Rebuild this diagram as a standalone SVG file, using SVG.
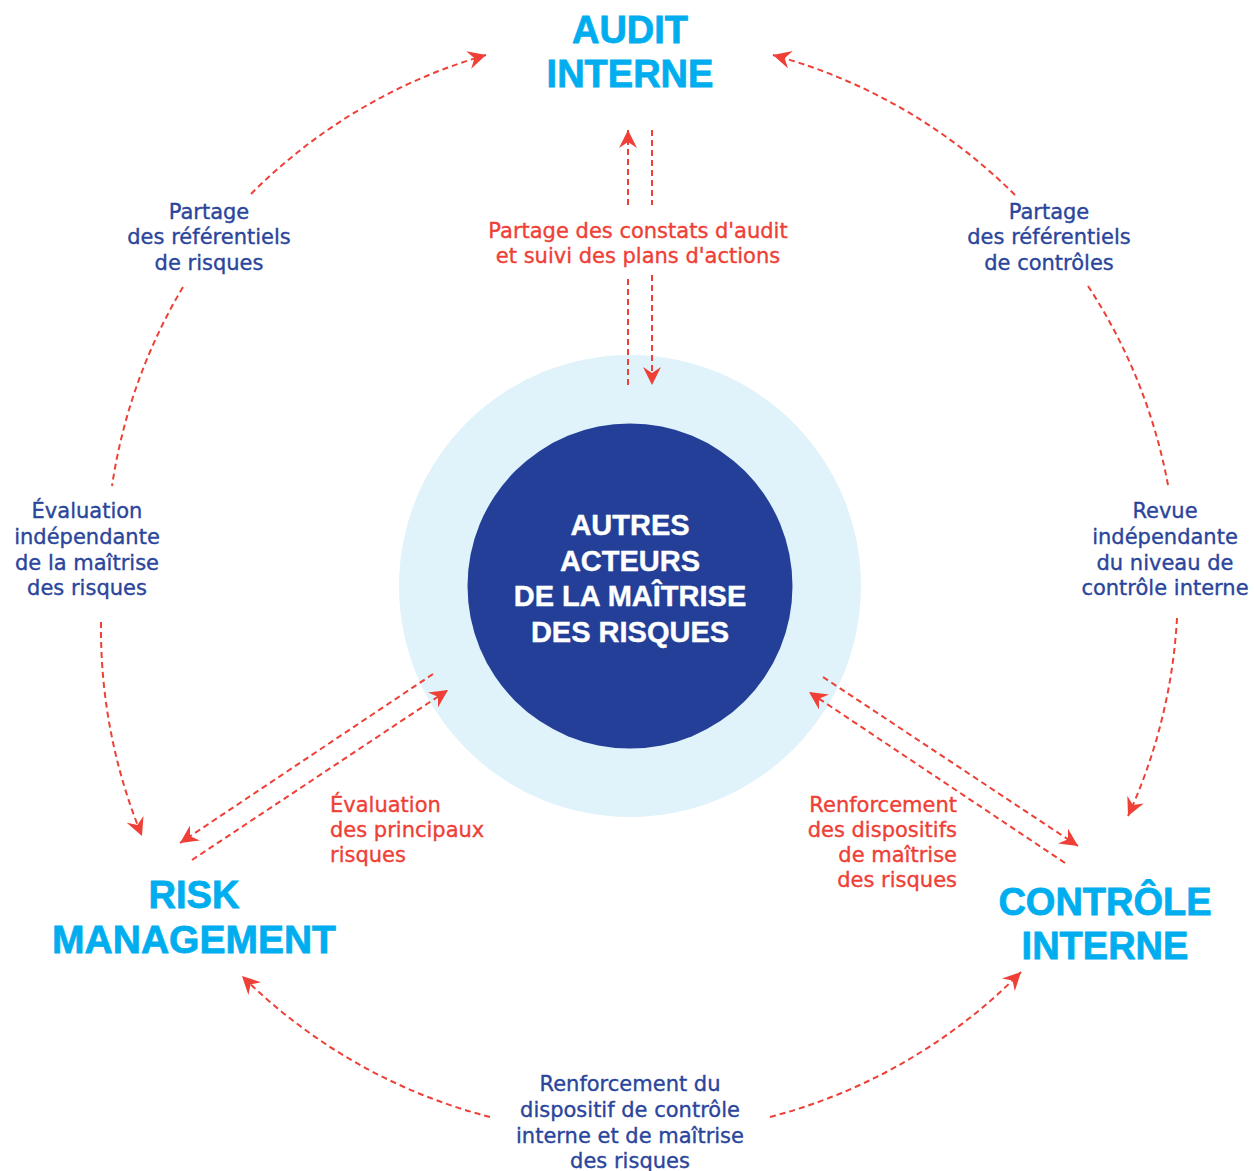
<svg xmlns="http://www.w3.org/2000/svg" width="1254" height="1171" viewBox="0 0 1254 1171">
<style>
.title{font-family:"Liberation Sans",Arial,sans-serif;font-weight:bold;font-size:38px;fill:#00AEEF;stroke:#00AEEF;stroke-width:0.8;text-anchor:middle}
.center{font-family:"Liberation Sans",Arial,sans-serif;font-weight:bold;font-size:29px;fill:#FFFFFF;stroke:#FFFFFF;stroke-width:0.4;text-anchor:middle}
.lbl{font-family:"DejaVu Sans",sans-serif;font-size:21px;fill:#2A459B;stroke:#2A459B;stroke-width:0.35}
.red{font-family:"DejaVu Sans",sans-serif;font-size:21px;fill:#EE4036;stroke:#EE4036;stroke-width:0.35}
.mid{text-anchor:middle}
.con{fill:none;stroke:#EE4036;stroke-width:2;stroke-dasharray:6 4}
</style>
<defs>
<marker id="ah" markerUnits="userSpaceOnUse" markerWidth="20" markerHeight="18" refX="18" refY="9" orient="auto">
<path d="M0,0 L18,9 L0,18 L6,9 z" fill="#EE4036"/>
</marker>
</defs>
<rect width="1254" height="1171" fill="#FFFFFF"/>

<g id="node-center">
<circle cx="630" cy="586" r="231" fill="#E0F2FA"/>
<circle cx="630" cy="586" r="162.5" fill="#233F98"/>
<text class="center" x="630" y="535">AUTRES</text>
<text class="center" x="630" y="570.5">ACTEURS</text>
<text class="center" x="630" y="606">DE LA MAÎTRISE</text>
<text class="center" x="630" y="641.5">DES RISQUES</text>
</g>

<g id="node-audit">
<text class="title" x="630" y="43">AUDIT</text>
<text class="title" x="630" y="87">INTERNE</text>
</g>

<g id="node-risk">
<text class="title" x="194" y="908">RISK</text>
<text class="title" x="194" y="953" style="font-size:39px">MANAGEMENT</text>
</g>

<g id="node-controle">
<text class="title" x="1105" y="915">CONTRÔLE</text>
<text class="title" x="1105" y="959">INTERNE</text>
</g>

<g id="connectors">
<path class="con" d="M628,385 L628,275"/>
<path class="con" d="M628,205 L628,130" marker-end="url(#ah)"/>
<path class="con" d="M652,130 L652,205"/>
<path class="con" d="M652,275 L652,385" marker-end="url(#ah)"/>

<path class="con" d="M433,674 L180,843" marker-end="url(#ah)"/>
<path class="con" d="M192,860 L448,690" marker-end="url(#ah)"/>

<path class="con" d="M823,677 L1078,846" marker-end="url(#ah)"/>
<path class="con" d="M1065,863 L809,692" marker-end="url(#ah)"/>

<path class="con" d="M251,194 A545,545 0 0 1 486,55" marker-end="url(#ah)"/>
<path class="con" d="M183,287 A545,545 0 0 0 112,486"/>
<path class="con" d="M101,622 A545,545 0 0 0 142,836" marker-end="url(#ah)"/>

<path class="con" d="M1015,195 A545,545 0 0 0 773,55" marker-end="url(#ah)"/>
<path class="con" d="M1088,286 A545,545 0 0 1 1168,485"/>
<path class="con" d="M1177,618 A545,545 0 0 1 1128,816" marker-end="url(#ah)"/>

<path class="con" d="M490,1117 A545,545 0 0 1 242,976" marker-end="url(#ah)"/>
<path class="con" d="M770,1117 A545,545 0 0 0 1021,972" marker-end="url(#ah)"/>
</g>

<g id="labels">
<text class="red mid" x="638" y="238">Partage des constats d'audit</text>
<text class="red mid" x="638" y="263">et suivi des plans d'actions</text>

<text class="red" x="330" y="812">Évaluation</text>
<text class="red" x="330" y="837">des principaux</text>
<text class="red" x="330" y="862">risques</text>

<text class="red" x="957" y="812" text-anchor="end">Renforcement</text>
<text class="red" x="957" y="837" text-anchor="end">des dispositifs</text>
<text class="red" x="957" y="862" text-anchor="end">de maîtrise</text>
<text class="red" x="957" y="887" text-anchor="end">des risques</text>

<text class="lbl mid" x="209" y="219">Partage</text>
<text class="lbl mid" x="209" y="244">des référentiels</text>
<text class="lbl mid" x="209" y="270">de risques</text>

<text class="lbl mid" x="1049" y="219">Partage</text>
<text class="lbl mid" x="1049" y="244">des référentiels</text>
<text class="lbl mid" x="1049" y="270">de contrôles</text>

<text class="lbl mid" x="87" y="518">Évaluation</text>
<text class="lbl mid" x="87" y="544">indépendante</text>
<text class="lbl mid" x="87" y="570">de la maîtrise</text>
<text class="lbl mid" x="87" y="595">des risques</text>

<text class="lbl mid" x="1165" y="518">Revue</text>
<text class="lbl mid" x="1165" y="544">indépendante</text>
<text class="lbl mid" x="1165" y="570">du niveau de</text>
<text class="lbl mid" x="1165" y="595">contrôle interne</text>

<text class="lbl mid" x="630" y="1091">Renforcement du</text>
<text class="lbl mid" x="630" y="1117">dispositif de contrôle</text>
<text class="lbl mid" x="630" y="1143">interne et de maîtrise</text>
<text class="lbl mid" x="630" y="1168">des risques</text>
</g>
</svg>
